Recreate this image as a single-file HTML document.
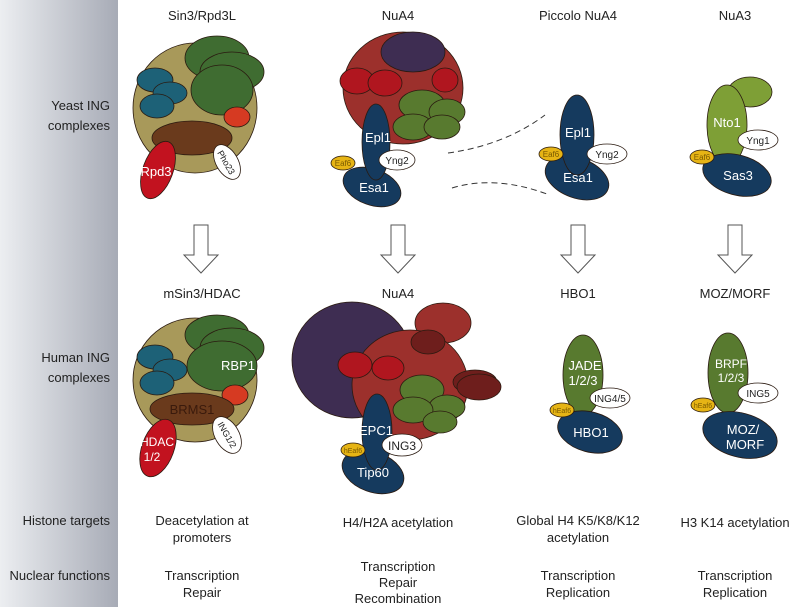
<!DOCTYPE html>
<html><head><meta charset="utf-8"><style>
body{margin:0;background:#fff}
svg{display:block}
text{font-family:"Liberation Sans",Arial,sans-serif}
</style></head><body>
<svg width="799" height="607" viewBox="0 0 799 607">
<defs>
<linearGradient id="side" x1="0" x2="1" y1="0" y2="0"><stop offset="0" stop-color="#eceef1"/><stop offset="1" stop-color="#a7abb6"/></linearGradient>
</defs>
<rect x="0" y="0" width="118" height="607" fill="url(#side)"/>
<g font-size="13" fill="#222" text-anchor="end">
<text x="110" y="110">Yeast ING</text><text x="110" y="130">complexes</text>
<text x="110" y="362">Human ING</text><text x="110" y="382">complexes</text>
<text x="110" y="525">Histone targets</text>
<text x="110" y="580">Nuclear functions</text>
</g>
<g font-size="13" fill="#222" text-anchor="middle">
<text x="202" y="20">Sin3/Rpd3L</text><text x="398" y="20">NuA4</text><text x="578" y="20">Piccolo NuA4</text><text x="735" y="20">NuA3</text>
<text x="202" y="298">mSin3/HDAC</text><text x="398" y="298">NuA4</text><text x="578" y="298">HBO1</text><text x="735" y="298">MOZ/MORF</text>
</g>
<g stroke="#2a1a10" stroke-width="0.8">
<!-- Sin3 yeast -->
<g>
<ellipse cx="195" cy="108" rx="62" ry="65" fill="#a8995a"/>
<ellipse cx="217" cy="58" rx="32" ry="22" fill="#3f6c31"/>
<ellipse cx="232" cy="72" rx="32" ry="20" fill="#3f6c31"/>
<ellipse cx="222" cy="90" rx="31" ry="25" fill="#3f6c31"/>
<ellipse cx="155" cy="80" rx="18" ry="12" fill="#1d6177"/>
<ellipse cx="170" cy="93" rx="17" ry="11" fill="#1d6177"/>
<ellipse cx="157" cy="106" rx="17" ry="12" fill="#1d6177"/>
<ellipse cx="237" cy="117" rx="13" ry="10" fill="#d63a22"/>
<ellipse cx="192" cy="138" rx="40" ry="17" fill="#6a3a1c"/>
<ellipse cx="158" cy="170" rx="15" ry="30" fill="#c2121f" transform="rotate(20 158 170)"/>
<ellipse cx="227" cy="162" rx="11" ry="19" fill="#fff" transform="rotate(-30 227 162)"/>
</g>
<!-- NuA4 yeast -->
<g>
<ellipse cx="403" cy="88" rx="60" ry="56" fill="#9c302c"/>
<ellipse cx="413" cy="52" rx="32" ry="20" fill="#3e2d52"/>
<ellipse cx="357" cy="81" rx="17" ry="13" fill="#b0161f"/>
<ellipse cx="385" cy="83" rx="17" ry="13" fill="#b0161f"/>
<ellipse cx="445" cy="80" rx="13" ry="12" fill="#b0161f"/>
<ellipse cx="422" cy="105" rx="23" ry="15" fill="#587a2f"/>
<ellipse cx="447" cy="112" rx="18" ry="13" fill="#587a2f"/>
<ellipse cx="413" cy="127" rx="20" ry="13" fill="#587a2f"/>
<ellipse cx="442" cy="127" rx="18" ry="12" fill="#587a2f"/>
<ellipse cx="372" cy="187" rx="30" ry="18" fill="#153a5e" transform="rotate(20 372 187)"/>
<ellipse cx="376" cy="142" rx="14" ry="38" fill="#153a5e"/>
<ellipse cx="343" cy="163" rx="12" ry="7" fill="#e6b415"/>
<ellipse cx="397" cy="160" rx="18" ry="10" fill="#fff"/>
</g>
<!-- Piccolo -->
<g>
<ellipse cx="577" cy="178" rx="33" ry="20" fill="#153a5e" transform="rotate(20 577 178)"/>
<ellipse cx="577" cy="135" rx="17" ry="40" fill="#153a5e"/>
<ellipse cx="551" cy="154" rx="12" ry="7" fill="#e6b415"/>
<ellipse cx="607" cy="154" rx="20" ry="10" fill="#fff"/>
</g>
<!-- NuA3 -->
<g>
<ellipse cx="750" cy="92" rx="22" ry="15" fill="#7e9f36"/>
<ellipse cx="727" cy="125" rx="20" ry="40" fill="#7e9f36"/>
<ellipse cx="737" cy="175" rx="35" ry="20" fill="#153a5e" transform="rotate(15 737 175)"/>
<ellipse cx="758" cy="140" rx="20" ry="10" fill="#fff"/>
<ellipse cx="702" cy="157" rx="12" ry="7" fill="#e6b415"/>
</g>
<!-- mSin3 human -->
<g>
<ellipse cx="195" cy="380" rx="62" ry="62" fill="#a8995a"/>
<ellipse cx="217" cy="335" rx="32" ry="20" fill="#3f6c31"/>
<ellipse cx="232" cy="348" rx="32" ry="20" fill="#3f6c31"/>
<ellipse cx="222" cy="366" rx="35" ry="25" fill="#3f6c31"/>
<ellipse cx="155" cy="357" rx="18" ry="12" fill="#1d6177"/>
<ellipse cx="170" cy="370" rx="17" ry="11" fill="#1d6177"/>
<ellipse cx="157" cy="383" rx="17" ry="12" fill="#1d6177"/>
<ellipse cx="235" cy="395" rx="13" ry="10" fill="#d63a22"/>
<ellipse cx="192" cy="409" rx="42" ry="16" fill="#6a3a1c"/>
<ellipse cx="158" cy="448" rx="16" ry="30" fill="#c2121f" transform="rotate(20 158 448)"/>
<ellipse cx="227" cy="435" rx="12" ry="20" fill="#fff" transform="rotate(-30 227 435)"/>
</g>
<!-- NuA4 human -->
<g>
<ellipse cx="352" cy="360" rx="60" ry="58" fill="#3e2d52"/>
<ellipse cx="443" cy="323" rx="28" ry="20" fill="#9c302c"/>
<ellipse cx="410" cy="385" rx="58" ry="55" fill="#9c302c"/>
<ellipse cx="428" cy="342" rx="17" ry="12" fill="#6e1e1c"/>
<ellipse cx="355" cy="365" rx="17" ry="13" fill="#b0161f"/>
<ellipse cx="388" cy="368" rx="16" ry="12" fill="#b0161f"/>
<ellipse cx="475" cy="382" rx="22" ry="12" fill="#6e1e1c"/>
<ellipse cx="479" cy="387" rx="22" ry="13" fill="#6e1e1c"/>
<ellipse cx="422" cy="390" rx="22" ry="15" fill="#587a2f"/>
<ellipse cx="447" cy="407" rx="18" ry="12" fill="#587a2f"/>
<ellipse cx="413" cy="410" rx="20" ry="13" fill="#587a2f"/>
<ellipse cx="440" cy="422" rx="17" ry="11" fill="#587a2f"/>
<ellipse cx="373" cy="472" rx="32" ry="20" fill="#153a5e" transform="rotate(20 373 472)"/>
<ellipse cx="377" cy="432" rx="15" ry="38" fill="#153a5e"/>
<ellipse cx="402" cy="445" rx="20" ry="11" fill="#fff"/>
<ellipse cx="353" cy="450" rx="12" ry="7" fill="#e6b415"/>
</g>
<!-- HBO1 -->
<g>
<ellipse cx="583" cy="375" rx="20" ry="40" fill="#587a2f"/>
<ellipse cx="590" cy="432" rx="33" ry="20" fill="#153a5e" transform="rotate(15 590 432)"/>
<ellipse cx="610" cy="398" rx="20" ry="10" fill="#fff"/>
<ellipse cx="562" cy="410" rx="12" ry="7" fill="#e6b415"/>
</g>
<!-- MOZ -->
<g>
<ellipse cx="728" cy="373" rx="20" ry="40" fill="#587a2f"/>
<ellipse cx="740" cy="435" rx="38" ry="22" fill="#153a5e" transform="rotate(15 740 435)"/>
<ellipse cx="758" cy="393" rx="20" ry="10" fill="#fff"/>
<ellipse cx="703" cy="405" rx="12" ry="7" fill="#e6b415"/>
</g>
</g>
<g fill="none" stroke="#333" stroke-width="1" stroke-dasharray="6,4">
<path d="M448 153 Q505 145 545 115"/>
<path d="M452 188 Q495 175 547 194"/>
</g>
<g fill="#fff" stroke="#555" stroke-width="1">
<path d="M194 225 h14 v30 h10 l-17 18 l-17 -18 h10z"/>
<path d="M391 225 h14 v30 h10 l-17 18 l-17 -18 h10z"/>
<path d="M571 225 h14 v30 h10 l-17 18 l-17 -18 h10z"/>
<path d="M728 225 h14 v30 h10 l-17 18 l-17 -18 h10z"/>
</g>
<g font-size="13" fill="#fff" text-anchor="middle">
<text x="156" y="176">Rpd3</text>
<text x="378" y="142">Epl1</text><text x="374" y="192">Esa1</text>
<text x="578" y="137">Epl1</text><text x="578" y="182">Esa1</text>
<text x="727" y="127">Nto1</text><text x="738" y="180">Sas3</text>
<text x="238" y="370">RBP1</text>
<text x="192" y="414" fill="#3a1a0c">BRMS1</text>
<text x="157" y="446" font-size="12">HDAC</text><text x="152" y="461" font-size="12">1/2</text>
<text x="376" y="435">EPC1</text><text x="373" y="477">Tip60</text>
<text x="585" y="370">JADE</text><text x="583" y="385">1/2/3</text>
<text x="591" y="437">HBO1</text>
<text x="731" y="368" font-size="12">BRPF</text><text x="731" y="382" font-size="12">1/2/3</text>
<text x="743" y="434">MOZ/</text><text x="745" y="449">MORF</text>
</g>
<g font-size="10" fill="#222" text-anchor="middle">
<text x="397" y="164">Yng2</text><text x="607" y="158">Yng2</text><text x="758" y="144">Yng1</text>
<text x="402" y="450" font-size="12">ING3</text><text x="610" y="402">ING4/5</text><text x="758" y="397">ING5</text>
<text x="227" y="166" transform="rotate(60 227 162)" font-size="9">Pho23</text>
<text x="227" y="438" transform="rotate(60 227 435)" font-size="9">ING1/2</text>
<g font-size="8" fill="#7a5a00"><text x="343" y="166">Eaf6</text><text x="551" y="157">Eaf6</text><text x="702" y="160">Eaf6</text>
<text x="353" y="453" font-size="7">hEaf6</text><text x="562" y="413" font-size="7">hEaf6</text><text x="703" y="408" font-size="7">hEaf6</text></g>
</g>
<g font-size="13" fill="#222" text-anchor="middle">
<text x="202" y="525">Deacetylation at</text><text x="202" y="542">promoters</text>
<text x="398" y="527">H4/H2A acetylation</text>
<text x="578" y="525">Global H4 K5/K8/K12</text><text x="578" y="542">acetylation</text>
<text x="735" y="527">H3 K14 acetylation</text>
<text x="202" y="580">Transcription</text><text x="202" y="597">Repair</text>
<text x="398" y="571">Transcription</text><text x="398" y="587">Repair</text><text x="398" y="603">Recombination</text>
<text x="578" y="580">Transcription</text><text x="578" y="597">Replication</text>
<text x="735" y="580">Transcription</text><text x="735" y="597">Replication</text>
</g>
</svg>
</body></html>
